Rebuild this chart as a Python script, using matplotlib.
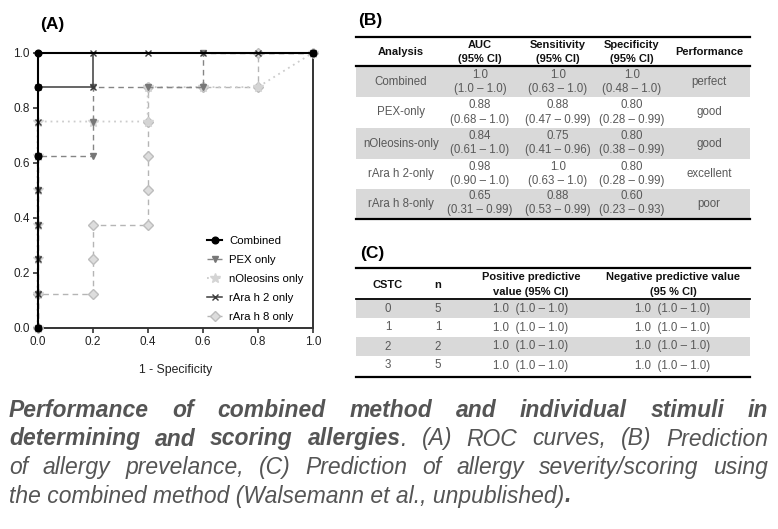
import matplotlib
matplotlib.use("Agg")
import matplotlib.pyplot as plt
from matplotlib.lines import Line2D
from matplotlib.patches import Rectangle

plt.rcParams['font.family'] = ['Liberation Sans', 'DejaVu Sans']

# ---------------- DATA ----------------
series_names = ["Combined", "PEX only", "nOleosins only", "rAra h 2 only", "rAra h 8 only"]
combined_fpr = [0.0, 0.0, 0.0, 0.0, 1.0]
combined_tpr = [0.0, 0.625, 0.875, 1.0, 1.0]
pex_fpr = [0.0, 0.0, 0.0, 0.0, 0.0, 0.0, 0.2, 0.2, 0.2, 0.4, 0.6, 0.6, 1.0]
pex_tpr = [0.0, 0.125, 0.25, 0.375, 0.5, 0.625, 0.625, 0.75, 0.875, 0.875, 0.875, 1.0, 1.0]
nole_fpr = [0.0, 0.0, 0.0, 0.0, 0.0, 0.0, 0.0, 0.2, 0.4, 0.4, 0.6, 0.8, 1.0]
nole_tpr = [0.0, 0.125, 0.25, 0.375, 0.5, 0.625, 0.75, 0.75, 0.75, 0.875, 0.875, 0.875, 1.0]
ara2_fpr = [0.0, 0.0, 0.0, 0.0, 0.0, 0.0, 0.0, 0.0, 0.2, 0.2, 0.4, 0.6, 0.8, 1.0]
ara2_tpr = [0.0, 0.125, 0.25, 0.375, 0.5, 0.625, 0.75, 0.875, 0.875, 1.0, 1.0, 1.0, 1.0, 1.0]
ara8_fpr = [0.0, 0.0, 0.2, 0.2, 0.2, 0.4, 0.4, 0.4, 0.4, 0.4, 0.6, 0.8, 0.8, 1.0]
ara8_tpr = [0.0, 0.125, 0.125, 0.25, 0.375, 0.375, 0.5, 0.625, 0.75, 0.875, 0.875, 0.875, 1.0, 1.0]
axis_ticks = [0.0, 0.2, 0.4, 0.6, 0.8, 1.0]

b_headers = [["Analysis"], ["AUC", "(95% CI)"], ["Sensitivity", "(95% CI)"], ["Specificity", "(95% CI)"], ["Performance"]]
b_analysis = ["Combined", "PEX-only", "nOleosins-only", "rAra h 2-only", "rAra h 8-only"]
b_auc = ["1.0", "0.88", "0.84", "0.98", "0.65"]
b_auc_ci = ["(1.0 \u2013 1.0)", "(0.68 \u2013 1.0)", "(0.61 \u2013 1.0)", "(0.90 \u2013 1.0)", "(0.31 \u2013 0.99)"]
b_sens = ["1.0", "0.88", "0.75", "1.0", "0.88"]
b_sens_ci = ["(0.63 \u2013 1.0)", "(0.47 \u2013 0.99)", "(0.41 \u2013 0.96)", "(0.63 \u2013 1.0)", "(0.53 \u2013 0.99)"]
b_spec = ["1.0", "0.80", "0.80", "0.80", "0.60"]
b_spec_ci = ["(0.48 \u2013 1.0)", "(0.28 \u2013 0.99)", "(0.38 \u2013 0.99)", "(0.28 \u2013 0.99)", "(0.23 \u2013 0.93)"]
b_perf = ["perfect", "good", "good", "excellent", "poor"]

c_headers = [["CSTC"], ["n"], ["Positive predictive", "value (95% CI)"], ["Negative predictive value", "(95 % CI)"]]
c_cstc = ["0", "1", "2", "3"]
c_n = ["5", "1", "2", "5"]
c_ppv = ["1.0  (1.0 \u2013 1.0)"] * 4
c_npv = ["1.0  (1.0 \u2013 1.0)"] * 4

caption_lines = [
    [[("Performance", "bold")], [("of", "bold")], [("combined", "bold")], [("method", "bold")],
     [("and", "bold")], [("individual", "bold")], [("stimuli", "bold")], [("in", "bold")]],
    [[("determining", "bold")], [("and", "bold")], [("scoring", "bold")],
     [("allergies", "bold"), (".", "normal")], [("(A)", "normal")], [("ROC", "normal")],
     [("curves,", "normal")], [("(B)", "normal")], [("Prediction", "normal")]],
    [[(w, "normal")] for w in "of allergy prevelance, (C) Prediction of allergy severity/scoring using".split()],
]
caption_last = [("the combined method (Walsemann et al., unpublished)", "normal"), (".", "bold")]

# ---------------- FIGURE ----------------
W, H = 778, 529
fig = plt.figure(figsize=(W / 100, H / 100), dpi=100)

def fx(px):
    return px / W

def fy(py):
    return 1 - py / H

# ---- Panel A ----
ax = fig.add_axes([fx(37.5), fy(328), (313 - 37.5) / W, (328 - 52.7) / H])
styles = [
    dict(x=ara8_fpr, y=ara8_tpr, color="#b5b5b5", ls=(0, (4, 3)), lw=1.0, marker="D", ms=4.8,
         mfc="#dddddd", mec="#bdbdbd", label=series_names[4]),
    dict(x=nole_fpr, y=nole_tpr, color="#cccccc", ls=(0, (1, 2.2)), lw=1.3, marker="*", ms=7,
         mfc="#d4d4d4", mec="#d4d4d4", label=series_names[2]),
    dict(x=pex_fpr, y=pex_tpr, color="#858585", ls=(0, (4, 3)), lw=1.0, marker="v", ms=4.8,
         mfc="#777777", mec="#777777", label=series_names[1]),
    dict(x=ara2_fpr, y=ara2_tpr, color="#3c3c3c", ls="-", lw=1.1, marker="x", ms=4.5,
         mfc="#3c3c3c", mec="#3c3c3c", label=series_names[3]),
    dict(x=combined_fpr, y=combined_tpr, color="#000000", ls="-", lw=1.5, marker="o", ms=4.8,
         mfc="#000000", mec="#000000", label=series_names[0]),
]
handles = {}
for s in styles:
    ln, = ax.plot(s["x"], s["y"], color=s["color"], linestyle=s["ls"], linewidth=s["lw"],
                  marker=s["marker"], markersize=s["ms"], markerfacecolor=s["mfc"],
                  markeredgecolor=s["mec"], clip_on=False, label=s["label"], zorder=3)
    handles[s["label"]] = ln
ax.set_xlim(0, 1)
ax.set_ylim(0, 1)
ax.set_xticks(axis_ticks)
ax.set_yticks(axis_ticks)
ax.set_xticklabels([f"{t:.1f}" for t in axis_ticks])
ax.set_yticklabels([f"{t:.1f}" for t in axis_ticks])
for sp in ax.spines.values():
    sp.set_color("#333333")
    sp.set_linewidth(1.4)
ax.tick_params(direction="out", length=3.5, width=1.2, color="#333333", labelsize=8.5,
               labelcolor="#222222", pad=2)
ax.set_xlabel("1 - Specificity", fontsize=8.8, color="#222222", labelpad=12)
leg = ax.legend([handles[n] for n in series_names], series_names, loc="upper left",
                bbox_to_anchor=((207 - 37.5) / 275.5, (328 - 236) / 275.3), frameon=False,
                fontsize=8.2, handlelength=1.35, labelspacing=0.78, handletextpad=0.6,
                borderpad=0, borderaxespad=0)
fig.text(fx(40), fy(25), "(A)", fontsize=12.5, fontweight="bold", va="center", ha="left")

# ---- Table helper ----
def hline(y, x0, x1, lw=1.5, color="#000000"):
    fig.add_artist(Line2D([fx(x0), fx(x1)], [fy(y), fy(y)], color=color, lw=lw))

def band(y0, y1, x0, x1, color="#d9d9d9"):
    fig.add_artist(Rectangle((fx(x0), fy(y1)), fx(x1) - fx(x0), fy(y0) - fy(y1),
                             facecolor=color, edgecolor="none", zorder=0))

def ctext(x, y, s, bold=False, size=8.3, color="#595959"):
    fig.text(fx(x), fy(y), s, ha="center", va="center", fontsize=size,
             fontweight="bold" if bold else "normal", color=color)

# ---- Panel B ----
bx0, bx1 = 356, 750
fig.text(fx(358), fy(20), "(B)", fontsize=12.5, fontweight="bold", va="center", ha="left")
b_cols = [401, 480, 558, 632, 709]
b_row_tops = [67, 97, 128, 159, 189]
b_row_bots = [97, 128, 159, 189, 218]
for i in range(len(b_analysis)):
    if i % 2 == 0:
        band(b_row_tops[i], b_row_bots[i], bx0, bx1)
hline(36.5, bx0, bx1, lw=1.6)
hline(66, bx0, bx1, lw=1.6)
hline(219, bx0, bx1, lw=1.6)
for c, hdr in zip(b_cols, b_headers):
    if len(hdr) == 1:
        ctext(c, 52, hdr[0], bold=True, size=8, color="#111111")
    else:
        ctext(c, 45.5, hdr[0], bold=True, size=8, color="#111111")
        ctext(c, 59.5, hdr[1], bold=True, size=8, color="#111111")
for i in range(len(b_analysis)):
    top, bot = b_row_tops[i], b_row_bots[i]
    mid = (top + bot) / 2
    ctext(b_cols[0], mid, b_analysis[i])
    for c, v, ci in zip(b_cols[1:4], [b_auc[i], b_sens[i], b_spec[i]],
                        [b_auc_ci[i], b_sens_ci[i], b_spec_ci[i]]):
        ctext(c, mid - 7.5, v)
        ctext(c, mid + 7.0, ci)
    ctext(b_cols[4], mid, b_perf[i])

# ---- Panel C ----
fig.text(fx(360), fy(254), "(C)", fontsize=12.5, fontweight="bold", va="center", ha="left")
c_cols = [388, 438, 531, 673]
c_row_tops = [300, 318, 337, 356]
c_row_bots = [318, 337, 356, 375]
for i in range(len(c_cstc)):
    if i % 2 == 0:
        band(c_row_tops[i], c_row_bots[i], bx0, bx1)
hline(268, bx0, bx1, lw=1.6)
hline(299, bx0, bx1, lw=1.3)
hline(377, bx0, bx1, lw=1.6)
for c, hdr in zip(c_cols, c_headers):
    if len(hdr) == 1:
        ctext(c, 285, hdr[0], bold=True, size=8, color="#111111")
    else:
        ctext(c, 277, hdr[0], bold=True, size=8, color="#111111")
        ctext(c, 292, hdr[1], bold=True, size=8, color="#111111")
for i in range(len(c_cstc)):
    mid = (c_row_tops[i] + c_row_bots[i]) / 2
    for c, v in zip(c_cols, [c_cstc[i], c_n[i], c_ppv[i], c_npv[i]]):
        ctext(c, mid, v)

# ---- Caption (justified) ----
cap_size = 16.5
cap_color = "#555555"
cap_x0, cap_x1 = 9, 768
baselines = [417, 445.5, 474, 502.5]
fig.canvas.draw()
renderer = fig.canvas.get_renderer()

def make(s, weight):
    return fig.text(0, 0, s, fontsize=cap_size, fontstyle="italic", fontweight=weight,
                    color=cap_color, ha="left", va="baseline")

def width(t):
    return t.get_window_extent(renderer).width

for line, base in zip(caption_lines, baselines[:3]):
    words = []
    for word in line:
        segs = [make(s, w) for s, w in word]
        ws = [width(t) for t in segs]
        words.append((segs, ws))
    total = sum(sum(ws) for _, ws in words)
    gap = max((cap_x1 - cap_x0 - total) / (len(words) - 1), 3.0)
    x = cap_x0
    for segs, ws in words:
        for t, w in zip(segs, ws):
            t.set_position((fx(x), fy(base)))
            x += w
        x += gap

x = cap_x0
for s, w in caption_last:
    t = make(s, w)
    t.set_position((fx(x), fy(baselines[3])))
    x += width(t)

fig.savefig("out.png", dpi=100)
